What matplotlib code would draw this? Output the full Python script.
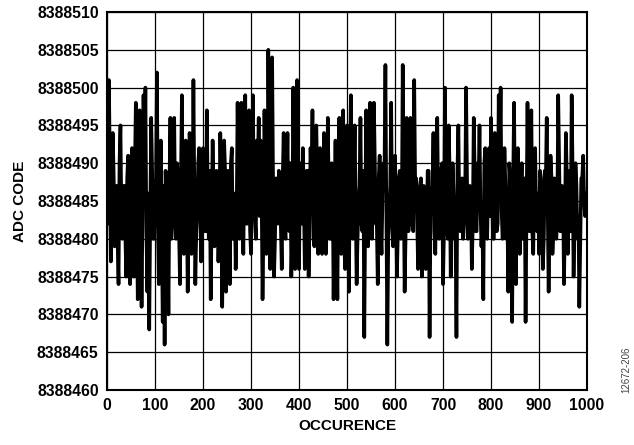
import numpy as np
import matplotlib
matplotlib.use('Agg')
import matplotlib.pyplot as plt

plt.rcParams['font.family'] = ['Liberation Sans', 'DejaVu Sans']

base = 8388000
# ADC codes (minus base) at occurrences 0, 4, 8, ... (peaks and dips)
codes = [
    484, 501, 477, 494, 479, 487, 474, 495, 480, 487,
    475, 491, 474, 492, 475, 498, 472, 497, 471, 499,
    500, 473, 468, 496, 480, 486, 502, 474, 493, 469,
    466, 484, 470, 496, 482, 496, 480, 488, 474, 499,
    478, 493, 473, 494, 478, 501, 474, 484, 492, 477,
    492, 481, 497, 480, 472, 493, 479, 489, 477, 494,
    471, 493, 473, 489, 474, 492, 480, 476, 498, 480,
    498, 478, 499, 482, 497, 478, 499, 483, 493, 496,
    493, 472, 497, 478, 505, 476, 504, 475, 488, 482,
    487, 476, 494, 480, 494, 481, 475, 500, 476, 501,
    476, 490, 492, 476, 489, 475, 492, 497, 479, 495,
    478, 492, 478, 494, 478, 496, 480, 490, 472, 493,
    472, 496, 478, 497, 476, 495, 473, 499, 480, 495,
    474, 485, 496, 481, 467, 497, 479, 498, 480, 498,
    482, 474, 491, 478, 490, 503, 466, 484, 498, 479,
    491, 475, 488, 480, 503, 473, 496, 481, 496, 482,
    501, 488, 476, 487, 475, 487, 476, 489, 467, 486,
    494, 478, 496, 480, 489, 474, 500, 482, 495, 475,
    490, 480, 467, 495, 481, 488, 482, 500, 480, 487,
    476, 496, 481, 490, 495, 479, 472, 492, 480, 492,
    496, 480, 494, 481, 499, 500, 480, 492, 480, 473,
    488, 469, 498, 474, 492, 478, 490, 480, 469, 498,
    481, 497, 478, 492, 481, 478, 488, 476, 489, 496,
    473, 491, 478, 488, 480, 499, 481, 487, 474, 494,
    478, 489, 499, 475, 490, 480, 471, 488, 491, 483,
]
# codes at occurrences 2, 6, 10, ... (the dense core band of the trace)
codes_core = [
    482, 489, 481, 488, 484, 480, 490, 483, 487, 481,
    488, 482, 486, 480, 489, 484, 481, 487, 483, 490,
    481, 486, 483, 489, 480, 488, 482, 485, 481, 487,
    489, 482, 487, 480, 486, 483, 490, 481, 488, 484,
    480, 487, 482, 489, 483, 486, 481, 490, 484, 482,
    487, 481, 485, 489, 482, 486, 480, 488, 483, 487,
    481, 489, 484, 482, 490, 480, 486, 483, 488, 481,
    485, 489, 482, 487, 481, 488, 484, 480, 489, 483,
    486, 481, 488, 483, 490, 482, 487, 480, 485, 489,
    482, 488, 481, 486, 483, 490, 481, 487, 484, 480,
    488, 482, 486, 481, 489, 483, 487, 480, 485, 488,
    481, 487, 483, 490, 482, 486, 480, 488, 484, 481,
    489, 482, 486, 480, 488, 483, 490, 481, 487, 484,
    480, 487, 482, 489, 484, 481, 488, 483, 486, 490,
    482, 488, 481, 486, 489, 483, 480, 487, 482, 488,
    484, 481, 489, 482, 487, 480, 486, 483, 490, 481,
    487, 483, 480, 488, 482, 486, 481, 489, 483, 487,
    481, 488, 484, 482, 490, 481, 486, 480, 488, 483,
    486, 481, 489, 483, 487, 480, 485, 488, 482, 486,
    482, 489, 481, 487, 484, 482, 490, 481, 487, 483,
    488, 480, 486, 482, 489, 484, 481, 487, 483, 490,
    481, 487, 483, 489, 482, 486, 480, 488, 484, 482,
    487, 481, 488, 483, 486, 489, 482, 480, 487, 484,
    482, 488, 481, 487, 483, 490, 481, 486, 482, 488,
    484, 481, 489, 482, 487, 483, 480, 488, 485, 486,
]

occurence = np.arange(0, 1000, 2)
adc = np.empty(500)
adc[0::2] = codes
adc[1::2] = codes_core
adc = adc + base

fig = plt.figure(figsize=(6.34, 4.45), dpi=100)
ax = fig.add_axes([0.1688, 0.1236, 0.7571, 0.8494])

ax.plot(occurence, adc, color='black', linewidth=2.6, zorder=3)

ax.set_xlim(0, 1000)
ax.set_ylim(8388460, 8388510)
ax.set_xticks(np.arange(0, 1001, 100))
ax.set_yticks(np.arange(8388460, 8388511, 5))
ax.yaxis.set_major_formatter(matplotlib.ticker.FormatStrFormatter('%d'))
ax.grid(True, color='black', linewidth=0.9, zorder=1)
ax.tick_params(length=0, labelsize=11.3, pad=6)
for lab in ax.get_xticklabels() + ax.get_yticklabels():
    lab.set_fontweight('bold')
for s in ax.spines.values():
    s.set_linewidth(1.5)

ax.set_xlabel('OCCURENCE', fontsize=11, fontweight='bold', labelpad=4)
ax.set_ylabel('ADC CODE', fontsize=11, fontweight='bold', labelpad=7)

fig.text(0.988, 0.17, '12672-206', rotation=90, fontsize=7, color='#444444',
         ha='center', va='center')

plt.savefig('out.png', dpi=100)
